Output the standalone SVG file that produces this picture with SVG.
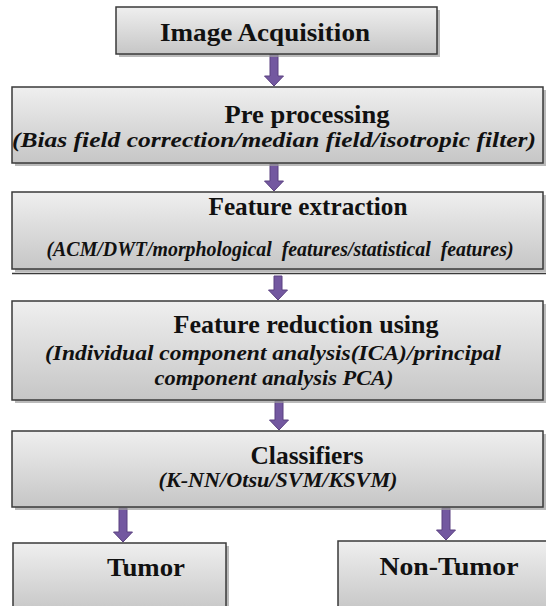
<svg xmlns="http://www.w3.org/2000/svg" width="546" height="606" viewBox="0 0 546 606">
  <style>
    .box { fill: url(#g); stroke: #3a3a3a; stroke-width: 1.5; }
    .sh { fill: #9c9c9c; opacity: 0.7; }
    text { font-family: 'Liberation Serif', 'DejaVu Serif', 'Times New Roman', serif; fill: #111; text-anchor: middle; font-weight: bold; }
    .t { font-size: 26px; }
    .s { font-style: italic; font-size: 20px; }
    .ar { fill: #7358a0; stroke: #5a4080; stroke-width: 1; }
  </style>
  <defs>
    <linearGradient id="g" x1="0" y1="0" x2="0" y2="1">
      <stop offset="0" stop-color="#efefef"/>
      <stop offset="1" stop-color="#c6c6c6"/>
    </linearGradient>
  </defs>
  <rect width="546" height="606" fill="#ffffff"/>

  <g id="connectors">
    <path class="ar" d="M270,54 H278 V76 H283.5 L274,86 L264.5,76 H270 Z"/>
    <path class="ar" d="M270,164 H278 V181 H283.5 L274,191 L264.5,181 H270 Z"/>
    <path class="ar" d="M274,276 H282 V290 H287.5 L278,300 L268.5,290 H274 Z"/>
    <path class="ar" d="M275,401 H283 V420 H288.5 L279,430 L269.5,420 H275 Z"/>
    <path class="ar" d="M119,508 H127 V532 H132.5 L123,542 L113.5,532 H119 Z"/>
    <path class="ar" d="M442,508 H450 V530 H455.5 L446,540 L436.5,530 H442 Z"/>
  </g>

  <g id="image-acquisition">
    <rect class="sh" x="119" y="10" width="321" height="47"/>
    <rect class="box" x="116" y="7" width="321" height="47"/>
    <text class="t" x="265" y="41" font-family="Liberation Serif, serif" textLength="210" lengthAdjust="spacingAndGlyphs">Image Acquisition</text>
  </g>

  <g id="pre-processing">
    <rect class="sh" x="15" y="90" width="531" height="76"/>
    <rect class="box" x="12" y="87" width="531" height="76"/>
    <text class="t" x="307" y="123" textLength="165" lengthAdjust="spacingAndGlyphs">Pre processing</text>
    <text class="s" x="274" y="147" textLength="524" lengthAdjust="spacingAndGlyphs">(Bias field correction/median field/isotropic filter)</text>
  </g>

  <g id="feature-extraction">
    <rect class="sh" x="15" y="195" width="531" height="77"/>
    <rect class="box" x="12" y="192" width="531" height="77"/>
    <line x1="12" y1="273.5" x2="546" y2="273.5" stroke="#3a3a3a" stroke-width="1.5"/>
    <text class="t" x="308" y="215" textLength="199" lengthAdjust="spacingAndGlyphs">Feature extraction</text>
    <text class="s" x="280" y="256" textLength="467" lengthAdjust="spacingAndGlyphs" xml:space="preserve">(ACM/DWT/morphological  features/statistical  features)</text>
  </g>

  <g id="feature-reduction">
    <rect class="sh" x="15" y="304" width="531" height="99"/>
    <rect class="box" x="12" y="301" width="531" height="99"/>
    <text class="t" x="306" y="333" textLength="265" lengthAdjust="spacingAndGlyphs">Feature reduction using</text>
    <text class="s" x="273" y="360" textLength="456" lengthAdjust="spacingAndGlyphs">(Individual component analysis(ICA)/principal</text>
    <text class="s" x="274" y="385" textLength="239" lengthAdjust="spacingAndGlyphs">component analysis PCA)</text>
  </g>

  <g id="classifiers">
    <rect class="sh" x="15" y="434" width="531" height="76"/>
    <rect class="box" x="12" y="431" width="531" height="76"/>
    <text class="t" x="307" y="464" textLength="113" lengthAdjust="spacingAndGlyphs">Classifiers</text>
    <text class="s" x="278" y="487" textLength="239" lengthAdjust="spacingAndGlyphs">(K-NN/Otsu/SVM/KSVM)</text>
  </g>

  <g id="tumor">
    <rect class="sh" x="16" y="546" width="213" height="70"/>
    <rect class="box" x="13" y="543" width="213" height="70"/>
    <text class="t" x="146" y="576" textLength="78" lengthAdjust="spacingAndGlyphs">Tumor</text>
  </g>

  <g id="non-tumor">
    <rect class="sh" x="341" y="544" width="215" height="70"/>
    <rect class="box" x="338" y="541" width="215" height="70"/>
    <text class="t" x="449" y="575" textLength="139" lengthAdjust="spacingAndGlyphs">Non-Tumor</text>
  </g>
</svg>
